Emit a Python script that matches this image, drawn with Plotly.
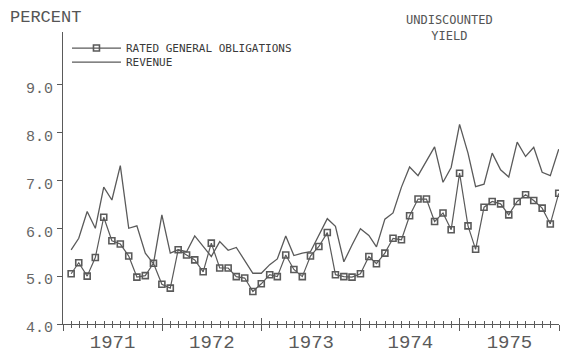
import pandas as pd
import plotly.graph_objects as go

# monthly yields, Jan 1971 - Dec 1975 (percent, month-end)
months = pd.date_range("1971-01-31", periods=60, freq="ME")

rated_go = [5.05, 5.28, 5.00, 5.39, 6.23, 5.74, 5.67, 5.42, 4.98, 5.01, 5.27, 4.83,
            4.75, 5.55, 5.44, 5.34, 5.09, 5.69, 5.17, 5.17, 4.99, 4.96, 4.68, 4.84,
            5.03, 4.99, 5.44, 5.14, 4.99, 5.42, 5.62, 5.91, 5.03, 4.99, 4.98, 5.05,
            5.41, 5.26, 5.48, 5.79, 5.76, 6.26, 6.61, 6.61, 6.14, 6.32, 5.97, 7.15,
            6.05, 5.56, 6.44, 6.56, 6.51, 6.28, 6.56, 6.70, 6.58, 6.42, 6.09, 6.73]

revenue = [5.55, 5.79, 6.35, 6.00, 6.86, 6.59, 7.31, 6.00, 6.05, 5.48, 5.26, 6.28,
           5.48, 5.55, 5.51, 5.84, 5.62, 5.41, 5.72, 5.54, 5.60, 5.33, 5.06, 5.06,
           5.24, 5.36, 5.84, 5.43, 5.48, 5.51, 5.85, 6.20, 6.04, 5.30, 5.65, 5.99,
           5.85, 5.61, 6.19, 6.32, 6.86, 7.28, 7.10, 7.42, 7.70, 6.96, 7.27, 8.17,
           7.57, 6.87, 6.92, 7.57, 7.22, 7.07, 7.80, 7.50, 7.69, 7.17, 7.10, 7.65]

y_ticks = [4.0, 5.0, 6.0, 7.0, 8.0, 9.0]

ink = "#5a5a5a"
mono = "Liberation Mono, DejaVu Sans Mono, monospace"

go_trace = go.Scatter(x=months, y=rated_go, mode="lines+markers",
                      name="RATED GENERAL OBLIGATIONS", legend="legend",
                      line=dict(color=ink, width=1.2),
                      marker=dict(symbol="square-open", size=6,
                                  color=ink, line=dict(width=1.6, color=ink)))

rev_trace = go.Scatter(x=months, y=revenue, mode="lines", name="REVENUE",
                       legend="legend2",
                       line=dict(color=ink, width=1.3))

# empty trace so the second (inside-tick) x axis gets drawn
tick_trace = go.Scatter(x=[], y=[], xaxis="x2", showlegend=False, hoverinfo="skip")

fig = go.Figure(data=[go_trace, rev_trace, tick_trace])

leg_font = dict(size=11, color="#3a3a3a", family="DejaVu Sans Mono")

# page body has an 8px margin, so the figure is 8px smaller than the window
fig.update_layout(
    width=561, height=350,
    margin=dict(l=55, r=10, t=24, b=34),
    paper_bgcolor="white", plot_bgcolor="white",
    font=dict(family=mono, color=ink),
    showlegend=True,
    legend=dict(x=0.008, y=0.945, xanchor="left", yanchor="middle",
                bgcolor="rgba(0,0,0,0)", itemwidth=49, font=leg_font),
    legend2=dict(x=0.008, y=0.897, xanchor="left", yanchor="middle",
                 bgcolor="rgba(0,0,0,0)", itemwidth=49, font=leg_font),
    xaxis=dict(type="date", range=["1971-01-01", "1976-01-01"],
               automargin=False,
               showline=True, linecolor=ink, linewidth=1.2,
               showgrid=False, zeroline=False,
               tick0="1971-01-01", dtick="M12", tickformat="%Y",
               ticklabelmode="period", ticks="outside", ticklen=6,
               tickcolor=ink, tickwidth=1.2, ticklabelstandoff=-6,
               minor=dict(dtick="M1", tick0="1971-01-01", ticks="outside",
                          ticklen=3, tickcolor=ink, tickwidth=1),
               tickfont=dict(size=19, color=ink, family=mono)),
    xaxis2=dict(type="date", range=["1971-01-01", "1976-01-01"],
                overlaying="x", anchor="y", side="bottom", automargin=False,
                showline=False, showgrid=False, zeroline=False,
                showticklabels=False,
                tick0="1971-01-01", dtick="M12", ticks="inside", ticklen=6,
                tickcolor=ink, tickwidth=1.2,
                minor=dict(dtick="M1", tick0="1971-01-01", ticks="inside",
                           ticklen=3, tickcolor=ink, tickwidth=1)),
    yaxis=dict(range=[4.0, 10.1], tickvals=y_ticks, automargin=False,
               ticktext=["%.1f" % v for v in y_ticks],
               showline=True, linecolor=ink, linewidth=1.2,
               showgrid=False, zeroline=False,
               ticks="outside", ticklen=5, tickcolor=ink,
               ticklabelstandoff=1, ticklabelshift=3,
               tickfont=dict(size=15, color="#666", family=mono)),
)

fig.add_annotation(text="PERCENT", xref="paper", yref="paper",
                   x=-0.111, y=1.048, xanchor="left", yanchor="middle",
                   showarrow=False, font=dict(size=17, color="#555", family=mono))
fig.add_annotation(text="UNDISCOUNTED<br>YIELD", xref="paper", yref="paper",
                   x=0.78, y=1.015, xanchor="center", yanchor="middle",
                   showarrow=False,
                   font=dict(size=12, color="#555", family="DejaVu Sans Mono"))

fig.write_html("out.html")
